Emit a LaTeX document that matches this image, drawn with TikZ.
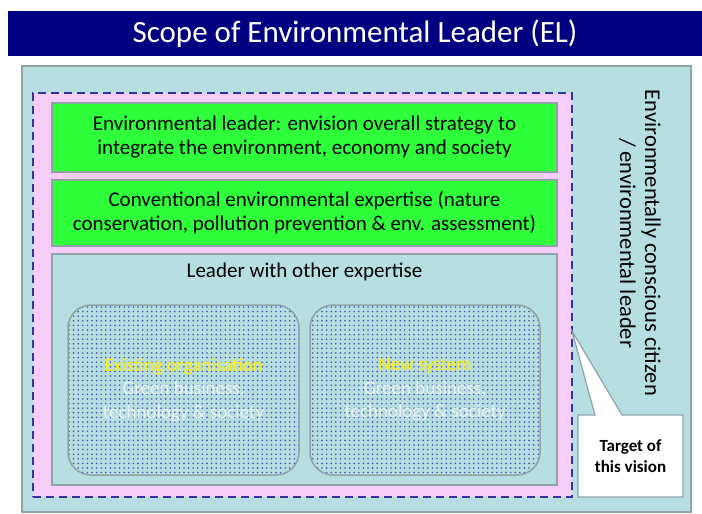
\documentclass[tikz,border=0pt]{standalone}
\usepackage{fontspec}
\setmainfont{Carlito}
\usetikzlibrary{patterns.meta}
\definecolor{navy}{HTML}{000080}
\definecolor{teal1}{HTML}{B7DEE1}
\definecolor{pinkf}{HTML}{F6CEF7}
\definecolor{greenf}{HTML}{2EFF3A}
\definecolor{grayb}{HTML}{8EA4A6}
\definecolor{dashc}{HTML}{33339A}
\definecolor{dotc}{HTML}{4656B4}
\definecolor{fadew}{HTML}{EAF4F4}
\tikzset{
  boxbase/.style={rectangle, draw=grayb, line width=1.5pt, inner sep=0pt, align=center},
  greenbox/.style={boxbase, fill=greenf, minimum width=505pt, font=\fontsize{21}{24}\selectfont},
  roundbox/.style={boxbase, rounded corners=23pt, pattern={Dots[distance=4.6pt, radius=0.9pt]}, pattern color=dotc, minimum height=170pt, font=\fontsize{19}{23.5}\selectfont, text=fadew},
}
\begin{document}
\begin{tikzpicture}[x=1pt,y=-1pt]
\useasboundingbox (0,0) rectangle (702,514);
\node[rectangle, fill=navy, minimum width=694pt, minimum height=45pt, inner sep=0pt, text=white, font=\fontsize{31}{34}\selectfont] (title) at (355,33.5) {Scope of Environmental Leader (EL)};
\node[boxbase, fill=teal1, minimum width=669pt, minimum height=446pt] (outer) at (356.5,289) {};
\node[rectangle, draw=dashc, line width=2pt, dash pattern=on 8pt off 5pt, fill=pinkf, minimum width=539pt, minimum height=404pt, inner sep=0pt] (scope) at (302.5,295) {};
\node[greenbox, minimum height=69pt] (el) at (304.5,137.5) {Environmental leader: envision overall strategy to\\integrate the environment, economy and society};
\node[greenbox, minimum height=66pt] (conv) at (304.5,213) {Conventional environmental expertise (nature\\conservation, pollution prevention \& env. assessment)};
\node[boxbase, fill=teal1, minimum width=505pt, minimum height=231pt] (other) at (304.5,369.5) {};
\node[font=\fontsize{21}{24}\selectfont, anchor=center] (otherlbl) at (304.5,272) {Leader with other expertise};
\node[roundbox, minimum width=231pt] (exist) at (183.5,390) {\textcolor{yellow}{Existing organisation}\\Green business,\\technology \& society};
\node[roundbox, minimum width=230pt] (new) at (425,390) {\textcolor{yellow}{New system}\\Green business,\\technology \& society};
\node[rotate=-90, align=center, font=\fontsize{22.5}{25}\selectfont] (citizen) at (640,243) {Environmentally conscious citizen\\/ environmental leader};
\coordinate (tip) at (572,331);
\draw[fill=white, draw=grayb, line width=1.2pt, line join=miter] (578,415) -- (595,415) -- (tip) -- (622,415) -- (683,415) -- (683,497) -- (578,497) -- cycle;
\node[align=center, font=\bfseries\fontsize{17}{21}\selectfont] (target) at (630.5,456) {Target of\\this vision};
\end{tikzpicture}
\end{document}
